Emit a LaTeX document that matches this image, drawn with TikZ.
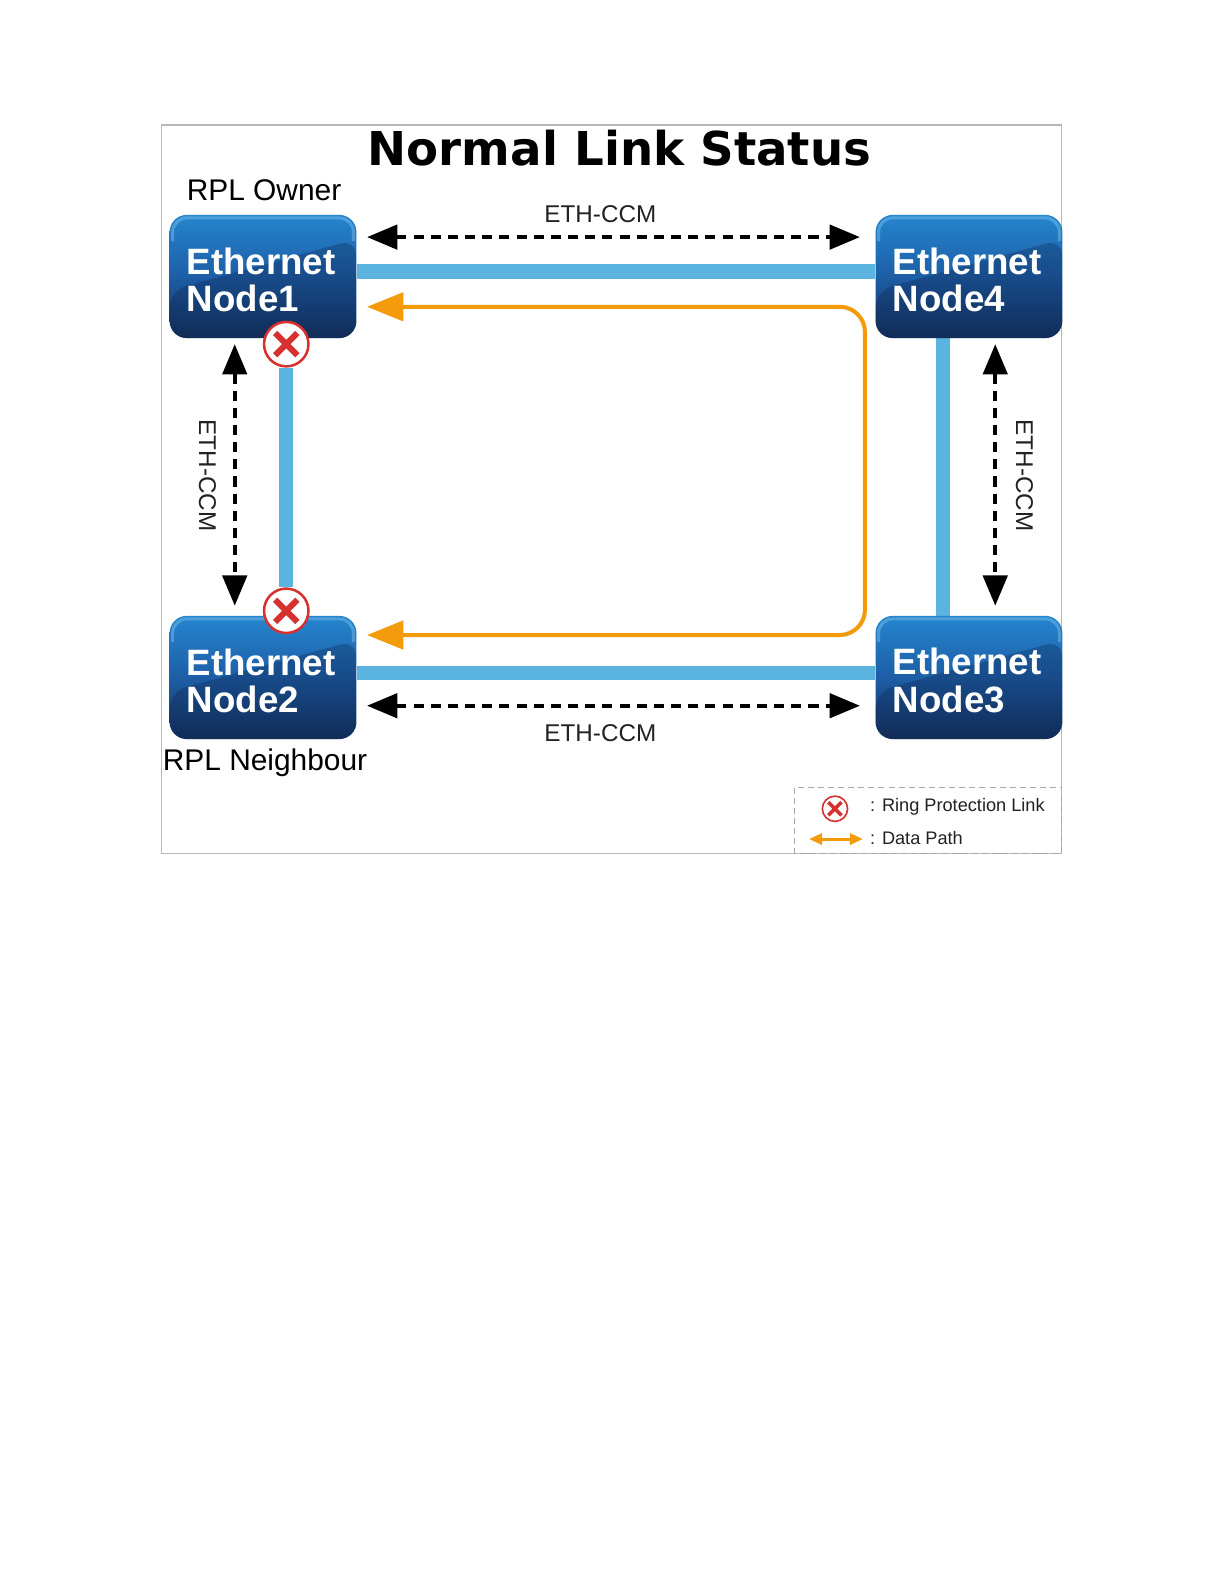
\documentclass[tikz,border=0pt]{standalone}
\usepackage{fontspec}
\setmainfont{Liberation Sans}
\newfontfamily\titlefont{DejaVu Sans}
\usetikzlibrary{arrows.meta,backgrounds}
\definecolor{linkblue}{HTML}{5BB4DF}
\definecolor{dataorange}{HTML}{F39B0B}
\definecolor{xred}{HTML}{D6312F}
\definecolor{nodetop}{HTML}{2585CE}
\definecolor{nodemid}{HTML}{1D5EA6}
\definecolor{nodebot}{HTML}{13305B}
\definecolor{nodedark}{HTML}{0E2550}
\definecolor{nodehi}{HTML}{8CCBF2}
\definecolor{framegray}{HTML}{B8B8B8}
\definecolor{legendgray}{HTML}{A8A8A8}
\definecolor{txtgray}{HTML}{222222}
\tikzset{
  enode/.style={rectangle, rounded corners=17pt, minimum width=185pt, minimum height=122pt,
    inner sep=0pt, text width=151pt, align=left, text=white,
    font=\bfseries\fontsize{36.3}{37.5}\selectfont,
    execute at begin node={\rule{0pt}{33pt}},
    top color=nodetop, bottom color=nodebot, middle color=nodemid,
    path picture={
      \fill[nodedark, opacity=0.32] ([yshift=-75pt]path picture bounding box.north west)
        -- ([yshift=-24pt]path picture bounding box.north east)
        -- (path picture bounding box.south east)
        -- (path picture bounding box.south west) -- cycle;
      \draw[nodehi, line width=3pt, opacity=0.4, rounded corners=14pt]
        ([xshift=3pt,yshift=-26pt]path picture bounding box.north west)
        |- ([xshift=-3pt,yshift=-3pt]path picture bounding box.north east)
        -- ([xshift=-3pt,yshift=-26pt]path picture bounding box.north east);
    }},
  xmark/.style={circle, draw=xred, line width=2.5pt, fill=white, minimum size=44pt, inner sep=0pt,
    path picture={
      \draw[xred, line width=6pt]
        ([shift={(-11pt,-11pt)}]path picture bounding box.center) -- ([shift={(11pt,11pt)}]path picture bounding box.center)
        ([shift={(-11pt,11pt)}]path picture bounding box.center) -- ([shift={(11pt,-11pt)}]path picture bounding box.center);
    }},
  xmarksmall/.style={circle, draw=xred, line width=1.6pt, fill=white, minimum size=25pt, inner sep=0pt,
    path picture={
      \draw[xred, line width=3.5pt]
        ([shift={(-6.5pt,-6.5pt)}]path picture bounding box.center) -- ([shift={(6.5pt,6.5pt)}]path picture bounding box.center)
        ([shift={(-6.5pt,6.5pt)}]path picture bounding box.center) -- ([shift={(6.5pt,-6.5pt)}]path picture bounding box.center);
    }},
  link/.style={linkblue, line width=14pt},
  ccm/.style={black, line width=4pt, dash pattern=on 10pt off 7pt,
    {Triangle[length=30pt,width=24pt]}-{Triangle[length=30pt,width=24pt]}},
  datapath/.style={dataorange, line width=4pt, rounded corners=25pt,
    {Triangle[length=36pt,width=28pt]}-{Triangle[length=36pt,width=28pt]}},
  datalegend/.style={dataorange, line width=3pt,
    {Triangle[length=13pt,width=11pt]}-{Triangle[length=13pt,width=11pt]}},
  lbl/.style={text=txtgray, font=\fontsize{24}{27}\selectfont, inner sep=0pt},
  rpl/.style={text=black, font=\fontsize{29.6}{32}\selectfont, inner sep=0pt},
  legendtext/.style={text=txtgray, font=\fontsize{18}{21}\selectfont, inner sep=0pt, anchor=west},
  legendbox/.style={draw=legendgray, line width=1pt, dash pattern=on 6pt off 4pt}
}
\begin{document}
\begin{tikzpicture}[x=1pt,y=-1pt]
\useasboundingbox (1.58,1.24) rectangle (1213.5,1569.6);

% nodes
\node[enode] (n1) at (262,275) {Ethernet\\Node1};
\node[enode] (n4) at (961,275) {Ethernet\\Node4};
\node[enode] (n2) at (262,672) {Ethernet\\Node2};
\node[enode] (n3) at (961,672) {Ethernet\\Node3};

% ring protection marks
\node[xmark] (x1) at (285,342) {};
\node[xmark] (x2) at (285,606) {};

\begin{scope}[on background layer]
  \fill[white] (0,0) rectangle (1230,1590);
  \draw[framegray, line width=1pt] (161,125) rectangle (1053,846);
  \draw[link] ([yshift=5pt]n1.east) -- ([yshift=5pt]n4.west);
  \draw[link] ([yshift=4pt]n2.east) -- ([yshift=4pt]n3.west);
  \draw[link] (x1) -- (x2);
  \draw[link] ([xshift=-26pt]n4.south) -- ([xshift=-26pt]n3.north);
\end{scope}

% title and role labels
\node[inner sep=0pt] (title) at (615,148) {\titlefont\bfseries\fontsize{46.2}{50}\selectfont Normal Link Status};
\node[rpl] (owner) at (263,190) {RPL Owner};
\node[rpl] (neigh) at (264,756) {RPL Neighbour};

% ETH-CCM arrows
\coordinate (ta) at (365,236);
\coordinate (tb) at (853,236);
\coordinate (ba) at (365,700);
\coordinate (bb) at (853,700);
\coordinate (la) at (234,342);
\coordinate (lb) at (234,601);
\coordinate (ra) at (987,342);
\coordinate (rb) at (987,601);
\draw[ccm] (ta) -- (tb);
\draw[ccm] (ba) -- (bb);
\draw[ccm] (la) -- (lb);
\draw[ccm] (ra) -- (rb);
\node[lbl] (lt) at (596,213) {ETH-CCM};
\node[lbl] (lbot) at (596,727) {ETH-CCM};
\node[lbl, rotate=-90] (lleft) at (207,472) {ETH-CCM};
\node[lbl, rotate=-90] (lright) at (1016,472) {ETH-CCM};

% data path
\coordinate (o1) at (365,305);
\coordinate (o2) at (858,305);
\coordinate (o3) at (858,630);
\coordinate (o4) at (365,630);
\draw[datapath] (o1) -- (o2) -- (o3) -- (o4);

% legend
\draw[legendbox] (788.7,781) rectangle (1053,846);
\node[xmarksmall] (lx) at (828.3,802) {};
\node[legendtext] (lt1) at (863,800) {: Ring Protection Link};
\coordinate (da) at (802.6,832);
\coordinate (db) at (856,832);
\draw[datalegend] (da) -- (db);
\node[legendtext] (lt2) at (863,831) {: Data Path};
\end{tikzpicture}
\end{document}
